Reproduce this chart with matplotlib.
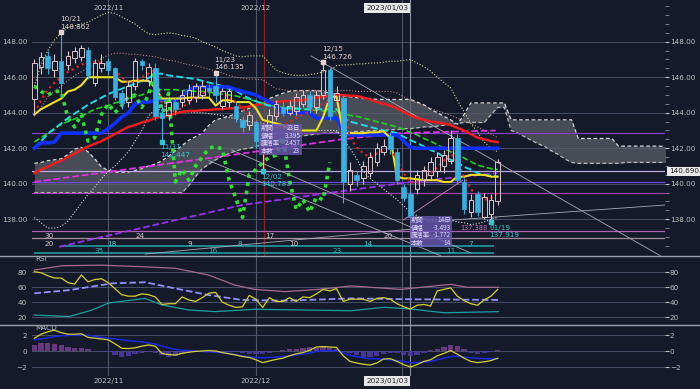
import numpy as np
import matplotlib
matplotlib.use("Agg")
import matplotlib.pyplot as plt
from matplotlib.lines import Line2D
from matplotlib.patches import Rectangle

# ---- data (bar index 0 = 2022/10/17, last = 2023/01/20) ----
opens = [144.75, 146.6, 147.2, 146.4, 146.9, 146.7, 147.1, 147.15, 147.55, 145.7,
         146.5, 146.9, 146.5, 145.1, 144.6, 145.5, 146.9, 145.8, 146.5, 144.0,
         143.9, 144.6, 144.6, 144.7, 144.9, 145.0, 145.4, 145.5, 144.4, 144.6,
         144.4, 143.6, 143.3, 143.4, 142.2, 142.7, 143.8, 144.3, 144.0, 144.1,
         144.5, 145.0, 144.3, 145.0, 146.4, 144.7, 144.85, 140.0, 140.5, 140.3,
         140.6, 141.2, 141.8, 142.7, 141.8, 139.8, 139.4, 139.7, 140.2, 140.5,
         140.7, 141.0, 141.3, 142.55, 140.1, 138.4, 139.4, 138.15, 138.3, 139.0]
highs = [147.0, 147.4, 147.5, 147.3, 148.42, 147.5, 147.7, 147.8, 147.7, 147.0,
         147.3, 147.1, 146.6, 145.3, 145.8, 147.1, 147.0, 146.8, 146.8, 144.5,
         144.9, 144.9, 145.3, 145.6, 145.7, 145.8, 145.6, 146.135, 145.4, 145.4,
         144.6, 143.8, 144.1, 143.6, 142.9, 144.2, 144.7, 144.6, 144.7, 145.1,
         145.3, 145.2, 145.3, 146.726, 146.5, 145.5, 145.0, 141.2, 140.7, 141.3,
         141.8, 142.3, 142.5, 142.9, 142.0, 140.0, 139.6, 140.8, 141.0, 141.5,
         141.8, 141.9, 143.0, 142.8, 140.3, 139.4, 139.6, 139.5, 139.4, 141.4]
lows = [143.9, 146.2, 146.2, 146.0, 144.9, 146.4, 146.8, 146.9, 145.9, 145.5,
        146.3, 146.2, 144.7, 144.2, 144.3, 145.3, 146.4, 145.5, 143.6, 142.447,
        143.6, 143.9, 144.3, 144.5, 144.6, 144.8, 144.9, 144.6, 144.2, 144.3,
        143.5, 142.9, 143.0, 142.0, 140.783, 142.5, 143.6, 143.8, 143.9, 143.9,
        144.3, 144.0, 144.0, 144.8, 143.6, 144.5, 138.9, 139.6, 139.9, 140.0,
        140.4, 141.0, 141.6, 141.7, 140.0, 139.0, 137.95, 139.4, 139.9, 140.2,
        140.4, 140.6, 141.1, 140.0, 138.3, 138.1, 138.2, 138.0, 137.919, 138.8]
closes = [146.8, 147.15, 146.5, 146.9, 145.7, 147.2, 147.45, 147.65, 146.1, 146.8,
          146.8, 146.4, 144.9, 144.55, 145.5, 146.9, 146.7, 146.6, 143.8, 143.7,
          144.6, 144.2, 145.0, 145.3, 145.5, 145.5, 145.2, 145.0, 145.2, 145.2,
          143.7, 143.2, 143.9, 142.4, 142.6, 143.9, 144.5, 144.0, 144.4, 144.9,
          145.0, 144.3, 145.0, 146.4, 143.8, 145.1, 140.1, 140.8, 140.2, 141.0,
          141.5, 142.0, 142.1, 141.95, 140.2, 139.2, 138.1, 140.5, 140.8, 141.2,
          141.5, 141.6, 142.6, 140.2, 138.55, 139.1, 138.4, 139.25, 139.1, 141.2]

tenkan = [143.9, 144.2, 144.4, 144.6, 144.8, 145.2, 145.3, 145.55, 146.0, 146.0,
          146.0, 146.0, 146.0, 145.75, 145.75, 145.8, 145.8, 145.8, 145.4, 144.8,
          144.8, 144.8, 144.8, 144.85, 144.85, 144.85, 144.85, 144.4, 144.7, 144.7,
          144.6, 144.6, 144.6, 144.25, 143.6, 143.5, 143.4, 143.3, 143.1, 143.0,
          143.0, 143.0, 143.0, 143.75, 144.9, 144.9, 142.85, 142.85, 142.85, 142.85,
          142.9, 142.9, 142.95, 142.6, 140.4, 140.3, 140.3, 140.25, 140.2, 140.2,
          140.2, 140.1, 140.1, 140.4, 140.4, 140.5, 140.5, 140.5, 140.4, 140.4]
kijun = [142.0, 142.3, 142.3, 142.35, 142.85, 142.85, 142.85, 142.85, 142.85, 142.85,
         142.85, 143.1, 143.4, 143.75, 144.0, 144.5, 144.6, 144.6, 144.7, 144.7,
         144.7, 144.7, 144.9, 145.3, 145.45, 145.45, 145.45, 145.45, 145.45, 145.45,
         145.3, 145.2, 145.1, 145.0, 144.8, 144.6, 144.45, 144.0, 144.0, 144.0,
         144.0, 144.0, 143.7, 143.7, 143.7, 143.7, 143.0, 142.75, 142.75, 142.75,
         142.75, 142.75, 142.75, 142.75, 142.75, 142.4, 142.05, 142.0, 142.0, 142.0,
         142.0, 142.0, 142.0, 142.0, 142.0, 142.0, 142.0, 142.0, 142.0, 142.0]
ma_red = [140.6, 140.8, 140.95, 141.15, 141.3, 141.5, 141.7, 141.9, 142.1, 142.25,
          142.4, 142.6, 142.8, 143.0, 143.2, 143.3, 143.45, 143.55, 143.7, 143.8,
          143.85, 143.95, 144.05, 144.1, 144.1, 144.15, 144.15, 144.2, 144.2, 144.25,
          144.25, 144.3, 144.35, 144.45, 144.5, 144.55, 144.6, 144.65, 144.65, 144.7,
          144.7, 144.8, 144.85, 144.9, 144.95, 145.0, 145.0, 144.95, 144.95, 144.85,
          144.75, 144.6, 144.5, 144.4, 144.25, 144.05, 143.85, 143.7, 143.6, 143.5,
          143.45, 143.4, 143.3, 143.15, 143.0, 142.8, 142.6, 142.5, 142.4, 142.35]
ma_cyan = [142.0, 142.4, 142.8, 143.1, 143.4, 143.7, 143.95, 144.2, 144.45, 144.65,
           144.85, 145.05, 145.2, 145.35, 145.5, 145.65, 145.8, 145.95, 146.2, 146.2,
           146.1, 146.05, 146.0, 145.95, 145.9, 145.8, 145.7, 145.6, 145.5, 145.35,
           145.25, 145.0, 144.8, 144.65, 144.5, 144.4, 144.3, 144.25, 144.25, 144.25,
           144.2, 144.2, 144.2, 144.2, 144.2, 144.2, 143.7, 143.5, 143.4, 143.3,
           143.2, 143.1, 143.0, 142.95, 142.85, 142.65, 142.45, 142.3, 142.1, 141.9,
           141.75, 141.5, 141.35, 141.2, 140.95, 140.8, 140.6, 140.5, 140.45, 140.4]
ma_green = [142.35, 142.6, 142.85, 143.1, 143.35, 143.5, 143.65, 143.8, 144.0, 144.2,
            144.3, 144.4, 144.55, 144.65, 144.8, 144.9, 145.0, 145.15, 145.25, 145.3,
            145.3, 145.3, 145.25, 145.25, 145.2, 145.2, 145.15, 145.1, 145.05, 145.0,
            144.95, 144.85, 144.75, 144.65, 144.55, 144.45, 144.35, 144.3, 144.25, 144.2,
            144.2, 144.15, 144.15, 144.1, 144.1, 144.05, 143.95, 143.85, 143.8, 143.7,
            143.6, 143.5, 143.4, 143.3, 143.2, 143.05, 142.9, 142.75, 142.55, 142.4,
            142.2, 142.0, 141.8, 141.65, 141.45, 141.25, 141.05, 140.95, 140.85, 140.8]
ma_short = [144.0, 144.7, 145.3, 145.7, 146.0, 146.3, 146.5, 146.7, 146.85, 146.85,
            146.8, 146.7, 146.4, 146.0, 145.7, 145.75, 146.0, 146.2, 146.4, 144.5,
            144.25, 144.05, 144.3, 144.6, 144.9, 145.1, 145.2, 145.2, 145.1, 144.9,
            144.6, 144.25, 143.9, 143.6, 143.2, 143.0, 143.2, 143.2, 143.5, 143.7,
            143.9, 144.05, 144.3, 144.5, 144.7, 144.7, 144.3, 142.6, 142.05, 141.7,
            141.5, 141.7, 141.9, 142.05, 141.3, 140.6, 140.1, 140.0, 140.3, 140.6,
            140.9, 141.3, 141.7, 141.2, 140.4, 139.7, 139.3, 139.1, 139.2, 139.5]
band_up = [145.5, 146.7, 147.5, 148.1, 148.5, 148.8, 148.9, 149.0, 149.1, 149.3,
           149.5, 149.65, 149.6, 149.4, 149.2, 149.0, 148.7, 148.45, 148.4, 148.45,
           148.5, 148.45, 148.35, 148.3, 148.2, 148.0, 147.85, 147.7, 147.5, 147.35,
           147.2, 147.15, 147.2, 147.2, 147.2, 146.8, 146.4, 146.25, 146.15, 146.1,
           146.1, 146.15, 146.2, 146.3, 146.4, 146.65, 146.7, 146.7, 146.75, 146.75,
           146.8, 146.8, 146.85, 146.9, 146.9, 146.95, 147.0, 146.8, 146.6, 146.35,
           146.0, 145.7, 145.4, 144.7, 144.05, 143.4, 142.9, 142.35, 142.0, 141.8]
band_mid = [143.8, 144.3, 144.9, 145.2, 145.5, 145.8, 146.1, 146.3, 146.55, 146.8,
            147.05, 147.25, 147.35, 147.35, 147.3, 147.3, 147.25, 147.2, 147.15, 147.05,
            146.95, 146.9, 146.8, 146.7, 146.65, 146.55, 146.45, 146.35, 146.25, 146.1,
            146.0, 145.95, 145.9, 145.9, 145.85, 145.6, 145.35, 145.3, 145.25, 145.25,
            145.25, 145.25, 145.25, 145.25, 145.25, 145.25, 145.25, 145.25, 145.2, 145.2,
            145.2, 145.2, 145.2, 145.2, 145.1, 144.9, 144.7, 144.55, 144.4, 144.25,
            144.1, 144.0, 143.85, 143.7, 143.55, 143.4, 143.2, 143.0, 142.8, 142.6]
band_lo = [138.1, 137.8, 137.5, 137.5, 137.6, 137.9, 138.4, 138.9, 139.4, 139.8,
           140.3, 140.7, 141.0, 141.4, 141.8, 142.4, 143.0, 143.8, 144.2, 144.15,
           144.1, 144.1, 144.05, 144.05, 144.0, 144.0, 143.95, 143.9, 143.85, 143.75,
           143.65, 143.6, 143.5, 143.45, 143.4, 143.3, 143.2, 143.15, 143.1, 143.05,
           143.0, 143.0, 143.0, 143.0, 143.0, 143.0, 142.5, 142.0, 141.4, 140.7,
           140.3, 140.0, 139.7, 139.4, 139.1, 138.75, 138.4, 138.2, 138.0, 137.9,
           137.9, 137.9, 137.95, 137.85, 137.8, 137.7, 137.75, 137.85, 138.0, 138.1]

# ichimoku cloud, 26 bars ahead (index 0..94)
span_top = [141.15, 141.2, 141.3, 141.35, 141.4, 141.65, 141.95, 142.05, 141.8, 141.4,
            140.95, 140.75, 140.65, 140.65, 140.65, 140.75, 140.85, 141.0, 141.1, 141.3,
            141.55, 141.85, 142.15, 142.45, 142.65, 142.85, 143.3, 143.6, 143.7, 143.8,
            143.95, 144.1, 144.25, 144.4, 144.6, 144.8, 144.95, 145.1, 145.2, 145.25,
            145.25, 145.25, 145.25, 145.2, 145.1, 145.0, 144.95, 144.9, 144.85, 144.8,
            144.8, 144.75, 144.75, 144.75, 144.75, 144.75, 144.75, 144.6, 144.45, 144.2,
            144.0, 143.8, 143.6, 143.35, 143.9, 144.55, 144.55, 144.55, 144.55, 144.55,
            144.55, 143.6, 143.6, 143.6, 143.6, 143.6, 143.6, 143.6, 143.6, 143.6,
            143.6, 142.55, 142.55, 142.55, 142.55, 142.55, 142.55, 142.12, 142.12, 142.12,
            142.12, 142.12, 142.12, 142.12, 142.1]
span_bot = [139.5] * 23 + [
            139.9, 140.4, 140.85, 141.1, 141.35, 141.55, 141.7, 141.85, 141.95, 142.0,
            142.1, 142.2, 142.3, 142.4, 142.5, 142.6, 142.65, 142.7, 142.75, 142.8,
            142.85, 142.85, 142.9, 142.9, 142.9, 142.95, 142.95, 143.0, 143.0, 143.0,
            143.05, 143.05, 143.1, 143.1, 143.15, 143.2, 143.2, 143.25, 143.3, 143.35,
            143.4, 143.45, 143.45, 143.45, 143.45, 143.9, 144.3, 144.3, 143.0, 142.85,
            142.65, 142.45, 142.25, 142.1, 141.85, 141.65, 141.4, 141.2, 141.15, 141.15,
            141.15, 141.15, 141.15, 141.15, 141.15, 141.2, 141.2, 141.2, 141.2, 141.2,
            141.2, 141.2]
chikou_shift = 25

# straight guide lines (start idx, start price, end idx, end price)
trend_lines = [(41.2, 147.2, 93.2, 135.95),
               (62.0, 137.95, 93.9, 138.8),
               (29.4, 141.9, 65.0, 136.1),
               (26.0, 141.3, 60.5, 135.95),
               (16.5, 136.04, 57.6, 137.5)]
pink_line = (54.9, 137.95, 63.8, 140.2)
magenta_x = [0, 30.9, 45.7, 54.6, 68.7]
magenta_p = [140.1, 141.7, 142.5, 142.85, 143.0]
purple_x = [3.7, 30.9, 44.2, 56.1, 69.0]
purple_p = [136.45, 138.8, 139.5, 140.1, 140.6]

level_prices = [142.85, 140.69, 140.1, 139.46, 137.33, 136.94]
level_colors = ["#8040c8", "#b8a8e0", "#6a48d8", "#a040a8", "#b060b0", "#a88a9a"]
last_price = 140.690

rsi = [80.4, 79, 75, 72, 72, 66, 64, 76, 67, 70, 71, 66, 58, 50, 48, 48, 51, 50, 47, 37,
       38, 38, 47, 43, 41, 46, 52, 53, 40, 36, 33, 34, 49, 44, 33, 46, 41, 41, 46, 41,
       47, 46, 51, 57, 55, 58, 41, 44, 44, 44, 41, 45, 46, 44, 38, 34, 31, 36, 37, 35,
       55, 57, 59, 48, 42, 38, 36, 43, 48, 57]
rsi_long_x = [0, 4.2, 10.1, 16.0, 20.9, 25.96, 29.8, 32.8, 37.3, 42.3, 47.2, 54.6, 62.0, 64.5, 69.1]
rsi_long = [82.6, 88.4, 89, 87, 85, 76, 62.8, 57, 54, 57, 61.5, 57, 63.7, 59.7, 59.7]
rsi_avg_x = [0, 5.2, 11.6, 16.5, 20.9, 25.96, 30.9, 37.3, 47.2, 57.1, 69.1]
rsi_avg = [51.8, 56, 65, 66.4, 58.4, 49.5, 43, 42, 45, 43.8, 43]
rsi_low_x = [0, 5.2, 8.6, 11.1, 16.5, 19.0, 23.0, 26.85, 32.8, 39.8, 47.2, 52.1, 56.1, 61.0, 69.1]
rsi_low = [23, 21, 29.7, 39, 45, 36.4, 29.7, 27.5, 30.6, 29.7, 28.7, 33.2, 31, 26, 27.5]

macd = [1.6, 2.1, 2.4, 2.6, 2.3, 2.1, 2.1, 2.15, 1.7, 1.6, 1.5, 1.4, 0.9, 0.35, 0.3, 0.4,
        0.6, 0.75, 0.6, -0.3, -0.45, -0.5, -0.3, -0.15, -0.05, 0.0, 0.05, 0.0, -0.2, -0.35,
        -0.5, -0.7, -0.8, -1.1, -1.45, -1.25, -1.05, -0.9, -0.6, -0.35, -0.2, 0.1, 0.5, 0.55,
        0.5, 0.45, -0.6, -1.3, -1.5, -1.65, -1.75, -1.5, -1.0, -0.95, -1.3, -1.7, -2.0, -1.7,
        -1.3, -1.1, -0.6, -0.3, 0.05, -0.4, -0.9, -1.3, -1.45, -1.35, -1.2, -0.9]
signal = [1.4, 1.5, 1.65, 1.8, 1.9, 1.95, 2.0, 2.0, 1.95, 1.85, 1.7, 1.6, 1.5, 1.4, 1.3, 1.2,
          1.15, 1.0, 0.85, 0.6, 0.4, 0.2, 0.1, 0.05, 0.0, -0.05, -0.1, -0.15, -0.2, -0.3,
          -0.45, -0.6, -0.75, -0.8, -0.85, -0.8, -0.75, -0.7, -0.6, -0.5, -0.4, -0.25, -0.05,
          0.05, 0.05, 0.0, -0.2, -0.55, -0.7, -0.85, -0.95, -1.0, -1.05, -1.1, -1.2, -1.3,
          -1.45, -1.45, -1.4, -1.3, -1.1, -0.9, -0.7, -0.65, -0.75, -0.85, -0.9, -0.95, -1.0, -1.0]
hist = [0.8, 1.0, 1.05, 0.9, 0.7, 0.45, 0.4, 0.35, 0.3, -0.05, -0.1, -0.15, -0.45, -0.75,
        -0.6, -0.4, -0.2, -0.15, -0.3, -0.55, -0.7, -0.6, -0.35, -0.2, -0.1, -0.05, 0.05,
        0.0, -0.05, -0.1, -0.15, -0.25, -0.35, -0.4, -0.35, -0.2, -0.05, 0.15, 0.25, 0.3,
        0.35, 0.45, 0.35, 0.6, 0.4, 0.3, -0.1, -0.3, -0.55, -0.7, -0.7, -0.6, -0.4, -0.2,
        -0.3, -0.5, -0.6, -0.45, -0.2, 0.1, 0.3, 0.5, 0.7, 0.6, 0.3, -0.2, -0.4, -0.3, -0.15, 0.15]

month_idx = [11, 33]
month_lbl = ["2022/11", "2022/12"]
cursor_idx = 56
cursor_lbl = "2023/01/03"
red_vline = 34.2
dim_vline = 54.8

# high / low annotations: (idx, price, date, value text, is_high)
hl_marks = [(4, 148.42, "10/21", "148.862", True),
            (27, 146.135, "11/23", "146.135", True),
            (43, 146.726, "12/15", "146.726", True),
            (19, 142.447, "11/11", "142.447", False),
            (34, 140.783, "12/02", "140.783", False),
            (68, 137.919, "01/19", "137.919", False)]

box_rows = ["期間", "値幅", "騰落率", "本数"]
box1_vals = ["23日", "3.395", "2.457", "23"]
box2_vals = ["14日", "-3.493", "-1.772", "14"]

row1_x = [2.2, 15.7, 35.0, 52.7]
row1_t = ["30", "24", "17", "20"]
row2_x = [2.2, 11.6, 23.1, 30.6, 38.7, 49.6, 65.0]
row2_t = ["20", "18", "9", "8", "10", "14", "7"]
row3_x = [9.6, 26.6, 45.1, 62.0]
row3_t = ["35", "16", "23", "11"]

# ---- layout ----
BG = "#141a29"
TXT = "#c0c0c0"
GRID = "#465066"
W, H = 700, 389
L, R = 32, 665
XL = ((L - 32) / 6.74 - 0.35, (R - 32) / 6.74)
FS = 5.2
jp = ["Noto Sans CJK JP", "DejaVu Sans"]

fig = plt.figure(figsize=(7, 3.89), dpi=100, facecolor=BG)


def mk_ax(top, bot):
    a = fig.add_axes([L / W, 1 - bot / H, (R - L) / W, (bot - top) / H], facecolor=BG)
    for s in a.spines.values():
        s.set_visible(False)
    a.set_xlim(*XL)
    a.set_xticks([])
    a.tick_params(axis="y", left=False, right=True, labelleft=True, labelright=True,
                  labelsize=FS, colors=TXT, direction="out", length=3, pad=0.5)
    return a


ax = mk_ax(0, 256)
ax_rsi = mk_ax(256, 325)
ax_m = mk_ax(325, 376)

ax.set_ylim(135.93, 150.35)
ax_rsi.set_ylim(9.8, 101.2)
ax_m.set_ylim(-3.125, 3.25)

ax.set_yticks([138, 140, 142, 144, 146, 148])
ax.set_yticklabels(["138.00", "140.00", "142.00", "144.00", "146.00", "148.00"])
ax.set_yticks(np.arange(136.5, 150.5, 0.5), minor=True)
ax.tick_params(axis="y", which="minor", left=False, right=True, direction="out",
               length=3, colors="#8890a0")
ax_rsi.set_yticks([20, 40, 60, 80])
ax_m.set_yticks([-2, 0, 2])

for a, ticks in [(ax, [138, 140, 142, 144, 146, 148]), (ax_rsi, [20, 40, 60, 80]), (ax_m, [-2, 0, 2])]:
    for t in ticks:
        a.axhline(t, color=GRID, lw=0.7, zorder=0)
    for m in month_idx:
        a.axvline(m, color="#4e566a", lw=0.8, zorder=0)
    a.axvline(cursor_idx, color="#8a90a0", lw=0.8, zorder=0)
    a.axvline(dim_vline, color="#4e566a", lw=0.8, zorder=0)
ax.axvline(red_vline, color="#8a2020", lw=0.9, zorder=1)

idx = np.arange(len(closes))

# cloud
cx = np.arange(len(span_top))
ax.fill_between(cx, span_bot, span_top, color="#5a5d66", alpha=0.75, lw=0, zorder=1)
ax.plot(cx, span_top, color="#d8d8d8", lw=0.9, ls=(0, (3, 2)), zorder=2)
ax.plot(cx, span_bot, color="#b8b8b8", lw=0.9, ls=(0, (3, 2)), zorder=2)

# horizontal levels
for p, c in zip(level_prices, level_colors):
    ax.axhline(p, color=c, lw=0.9, zorder=2)
ax.hlines([136.47, 136.1], [4, 0], [68.5, 68.5], color="#20a8a8", lw=1.1, zorder=2)

for x0, y0, x1, y1 in trend_lines:
    ax.plot([x0, x1], [y0, y1], color="#a8a8b8", lw=0.6, zorder=2)
ax.plot(pink_line[::2], pink_line[1::2], color="#d080c0", lw=0.6, zorder=2)

# bands / averages
ax.plot(idx, band_up, color="#d8d890", lw=0.8, ls=":", zorder=3)
ax.plot(idx, band_mid, color="#c08080", lw=0.8, ls=":", zorder=3)
ax.plot(idx, band_lo, color="#e0e0e0", lw=0.8, ls=":", zorder=3)
ax.plot(magenta_x, magenta_p, color="#e030e0", lw=1.3, ls="--", zorder=3)
ax.plot(purple_x, purple_p, color="#9a30f0", lw=1.3, ls="--", zorder=3)
ax.plot(idx, ma_red, color="#ee1c1c", lw=1.8, zorder=4)
ax.plot(idx, ma_green, color="#20d020", lw=1.2, ls="--", zorder=4)
ax.plot(idx, ma_cyan, color="#20d8e8", lw=1.4, ls="--", zorder=4)
ax.plot(idx, kijun, color="#1030ff", lw=2.6, zorder=4)
ax.plot(idx, tenkan, color="#f0e020", lw=1.5, zorder=4)
ax.plot(idx, ma_short, color="#e82020", lw=1.6, ls=(0, (1, 1.6)), zorder=4)
ax.plot(idx[:-chikou_shift], closes[chikou_shift:], color="#30e030", lw=2.6,
        ls=(0, (1, 1.3)), zorder=4)

# candles
o = np.array(opens)
c = np.array(closes)
hi = np.array(highs)
lo = np.array(lows)
up = c >= o
body_top = np.maximum(o, c)
body_bot = np.minimum(o, c)
wick_col = np.where(up, "#dcc4c8", "#38b0e0")
ax.vlines(idx, body_top, hi, colors=wick_col, lw=0.8, zorder=5)
ax.vlines(idx, lo, body_bot, colors=wick_col, lw=0.8, zorder=5)
ax.bar(idx[up], (body_top - body_bot)[up], bottom=body_bot[up], width=0.68,
       facecolor="none", edgecolor="#dcc4c8", lw=0.7, zorder=5)
ax.bar(idx[~up], (body_top - body_bot)[~up], bottom=body_bot[~up], width=0.68,
       color="#38b0e0", edgecolor="#38b0e0", lw=0.5, zorder=5)

# high/low labels
for i, p, d, v, is_high in hl_marks:
    col = "#e8d0d0" if is_high else "#30c8d0"
    if is_high:
        mp, d_p, v_p = p + 0.12, p + 0.84, p + 0.42
    else:
        mp, d_p, v_p = p - 0.08, p - 0.4, p - 0.82
    ax.plot([i], [mp], marker="s", ms=2.6, color=col, zorder=6)
    ax.text(i - 0.2, d_p, d, color=col, fontsize=FS, ha="left", va="center", zorder=7)
    ax.text(i - 0.2, v_p, v, color=col, fontsize=FS, ha="left", va="center", zorder=7)
ax.text(63.4, 137.5, "137.388", color="#c070c0", fontsize=4.8, ha="left", va="center", zorder=7)

# info boxes
for (x0, x1, p_top), vals in [((33.5, 39.8, 143.36), box1_vals), ((55.9, 62.2, 138.18), box2_vals)]:
    ax.add_patch(Rectangle((x0, p_top - 1.74), x1 - x0, 1.74, facecolor="#6858b0",
                           alpha=0.8, lw=0, zorder=7))
    for k, (lab, val) in enumerate(zip(box_rows, vals)):
        yy = p_top - 0.22 - k * 0.435
        ax.text(x0 + 0.2, yy, lab, fontsize=4.6, color="#e0d8f8", family=jp,
                ha="left", va="center", zorder=8)
        ax.text(x1 - 0.2, yy, val, fontsize=4.6, color="#e0d8f8", family=jp,
                ha="right", va="center", zorder=8)

# count rows
row2_c = ["#d8c8c8", "#40c8c8", "#d8c8c8", "#40c8c8", "#d8c8c8", "#40c8c8", "#40c8c8"]
for x, t in zip(row1_x, row1_t):
    ax.text(x, 137.08, t, fontsize=FS, color="#d8c8c8", ha="center", va="center", zorder=7)
for x, t, col in zip(row2_x, row2_t, row2_c):
    ax.text(x, 136.62, t, fontsize=FS, color=col, ha="center", va="center", zorder=7)
for x, t in zip(row3_x, row3_t):
    ax.text(x, 136.22, t, fontsize=FS, color="#30b8b8", ha="center", va="center", zorder=7)

# last price tag
ax.text(1.006, last_price, f"{last_price:.3f}", transform=ax.get_yaxis_transform(),
        fontsize=FS, color="#202020", ha="left", va="center",
        bbox=dict(boxstyle="square,pad=0.25", fc="#e8e8e8", ec="none"), zorder=9,
        clip_on=False)

# RSI panel
ax_rsi.plot(rsi_long_x, rsi_long, color="#a86890", lw=0.9)
ax_rsi.plot(rsi_avg_x, rsi_avg, color="#9090ff", lw=1.3, ls="--")
ax_rsi.plot(rsi_low_x, rsi_low, color="#1aa0a0", lw=0.9)
ax_rsi.plot(idx, rsi, color="#d8d030", lw=0.9)
ax_rsi.text(0.1, 97, "RSI", fontsize=FS, color=TXT, ha="left", va="center")

# MACD panel
hcol = np.where(np.array(hist) >= 0, "#703c88", "#4c3aa0")
ax_m.bar(idx, hist, width=0.8, color=hcol, alpha=0.9, zorder=1)
ax_m.plot(idx, signal, color="#1828e8", lw=1.1, zorder=2)
ax_m.plot(idx, macd, color="#d8d030", lw=0.9, zorder=3)
ax_m.text(0.1, 2.85, "MACD", fontsize=FS, color=TXT, ha="left", va="center")

# separators
for yp in (256, 325):
    fig.add_artist(Line2D([0, 1], [1 - yp / H, 1 - yp / H], color="#9aa0b0", lw=1))

# date labels top and bottom
for yfig in (1 - 8 / H, 1 - 381 / H):
    for m, lbl in zip(month_idx, month_lbl):
        xf = (L + (m - XL[0]) / (XL[1] - XL[0]) * (R - L)) / W
        fig.text(xf, yfig, lbl, fontsize=FS, color=TXT, ha="center", va="center")
    xf = (L + (cursor_idx - XL[0]) / (XL[1] - XL[0]) * (R - L)) / W
    fig.text(xf - 0.003, yfig, cursor_lbl, fontsize=FS, color="#202020", ha="right", va="center",
             bbox=dict(boxstyle="square,pad=0.3", fc="#e6e6e6", ec="none"))

fig.savefig("out.png", dpi=100, facecolor=BG)
